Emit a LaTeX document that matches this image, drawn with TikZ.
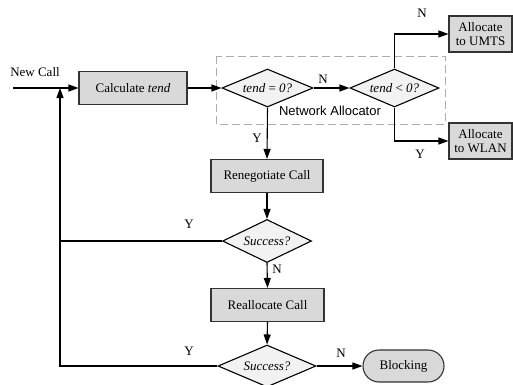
\documentclass[tikz,border=0pt]{standalone}
\usepackage{fontspec}
\setmainfont{Liberation Serif}
\setsansfont{Liberation Sans}
\usetikzlibrary{shapes.geometric,arrows.meta,positioning}
\tikzset{
    procBox/.style={draw, line width=1.1pt, draw=black!80, fill=gray!30, inner sep=0pt, minimum height=33pt, align=center},
    decisionNode/.style={diamond, draw, line width=1.1pt, fill=gray!10, aspect=2.4, inner sep=0pt, font=\fontsize{13}{15}\selectfont\itshape},
    termNode/.style={draw, line width=1.1pt, draw=black!80, fill=gray!30, rounded corners=16pt, inner sep=0pt, minimum width=81pt, minimum height=32pt},
    flowLine/.style={line width=1.1pt},
    flowArrow/.style={line width=1.1pt, -{Triangle[length=10pt,width=7pt]}},
    tagText/.style={inner sep=0pt}
}
\begin{document}
\begin{tikzpicture}[x=1pt,y=-1pt,font=\fontsize{13}{15}\selectfont]
              \useasboundingbox (0,0) rectangle (513,384);
              % process boxes
              \node[procBox, minimum width=108pt] (calc) at (133,88) {Calculate \textit{tend}};
              \node[procBox, minimum width=112pt] (reneg) at (267,176) {Renegotiate Call};
              \node[procBox, minimum width=113pt] (realloc) at (267.5,305) {Reallocate Call};
              \node[procBox, minimum width=63pt, minimum height=36pt, font=\fontsize{13}{14}\selectfont] (umts) at (480.5,34) {Allocate\\to UMTS};
              \node[procBox, minimum width=63pt, minimum height=36pt, font=\fontsize{13}{14}\selectfont] (wlan) at (480.5,141) {Allocate\\to WLAN};
              % decisions
              \node[decisionNode, minimum width=91pt, minimum height=38pt] (zeroTest) at (267.5,88) {tend \textup{=} 0?};
              \node[decisionNode, minimum width=89pt, minimum height=38pt] (negTest) at (394.5,88) {tend \textup{<} 0?};
              \node[decisionNode, minimum width=89pt, minimum height=43pt] (okFirst) at (267,241) {Success?};
              \node[decisionNode, minimum width=98pt, minimum height=42pt] (okSecond) at (267,366) {Success?};
              \node[termNode] (block) at (403.5,366) {Blocking};
              % network allocator frame
              \draw[gray!65, line width=1pt, dash pattern=on 8pt off 4pt] (216,56) rectangle (445,124);
              \node[tagText, font=\sffamily\fontsize{13}{15}\selectfont] (netAlloc) at (330,111) {Network Allocator};
              % entry and loop back
              \coordinate (entry) at (13,88);
              \coordinate (loopTop) at (60,88);
              \node[tagText] (newCall) at (35,72) {New Call};
              \draw[flowArrow] (entry) -- (calc.west);
              \draw[flowArrow] (calc.east) -- (zeroTest.west);
              \draw[flowArrow] (zeroTest.east) -- (negTest.west);
              \draw[flowArrow] (negTest.north) |- (umts.west);
              \draw[flowArrow] (negTest.south) |- (wlan.west);
              \draw[flowArrow] (zeroTest.south) -- (reneg.north);
              \draw[flowArrow] (reneg.south) -- (okFirst.north);
              \draw[flowArrow] (okFirst.south) -- (realloc.north);
              \draw[flowArrow] (realloc.south) -- (okSecond.north);
              \draw[flowArrow] (okSecond.east) -- (block.west);
              \draw[flowLine] (okFirst.west) -- (loopTop |- okFirst.west);
              \draw[flowArrow] (okSecond.west) -| (loopTop);
              % branch labels
              \foreach \X/\Y/\T in {323/79/N, 422/13/N, 420/154/Y, 257/138/Y, 189/224/Y, 277/269/N, 189/351/Y, 341/353/N}
                  {
                  \node[tagText] at (\X,\Y) {\T};
                  }
          \end{tikzpicture}
\end{document}
